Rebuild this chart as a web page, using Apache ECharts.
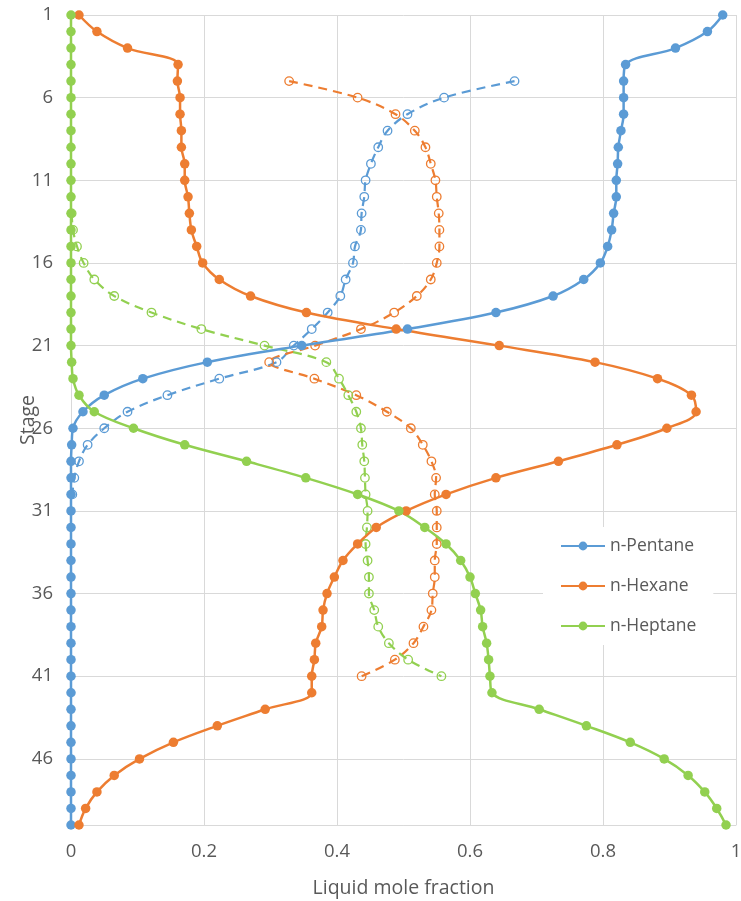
<!DOCTYPE html>
<html>
<head>
<meta charset="utf-8">
<script src="https://cdn.jsdelivr.net/npm/echarts@6/dist/echarts.min.js"></script>
<style>
  html, body { margin: 0; padding: 0; background: #ffffff; }
  #chart { width: 741px; height: 901px; }
</style>
</head>
<body>
<div id="chart"></div>
<script>
// Column stage numbers (1 = top, 50 = bottom)
const stages = [1, 2, 3, 4, 5, 6, 7, 8, 9, 10, 11, 12, 13, 14, 15, 16, 17, 18, 19, 20,
  21, 22, 23, 24, 25, 26, 27, 28, 29, 30, 31, 32, 33, 34, 35, 36, 37, 38, 39, 40,
  41, 42, 43, 44, 45, 46, 47, 48, 49, 50];

// Liquid mole fractions on every stage
const pentaneLiquid = [0.980, 0.957, 0.909, 0.834, 0.831, 0.831, 0.831, 0.827, 0.823, 0.822,
  0.820, 0.820, 0.816, 0.813, 0.807, 0.796, 0.771, 0.725, 0.639, 0.506,
  0.347, 0.205, 0.108, 0.050, 0.018, 0.003, 0.001, 0, 0, 0,
  0, 0, 0, 0, 0, 0, 0, 0, 0, 0,
  0, 0, 0, 0, 0, 0, 0, 0, 0, 0];
const hexaneLiquid = [0.012, 0.039, 0.085, 0.161, 0.160, 0.164, 0.164, 0.166, 0.166, 0.171,
  0.171, 0.176, 0.178, 0.181, 0.189, 0.198, 0.223, 0.270, 0.354, 0.489,
  0.644, 0.788, 0.882, 0.933, 0.940, 0.896, 0.821, 0.733, 0.639, 0.564,
  0.504, 0.459, 0.431, 0.409, 0.396, 0.385, 0.379, 0.377, 0.368, 0.366,
  0.362, 0.362, 0.292, 0.220, 0.154, 0.103, 0.065, 0.039, 0.022, 0.012];
const heptaneLiquid = [0, 0, 0, 0, 0, 0, 0, 0, 0, 0,
  0, 0, 0, 0, 0, 0, 0, 0, 0, 0,
  0, 0.001, 0.003, 0.012, 0.035, 0.094, 0.171, 0.264, 0.353, 0.431,
  0.493, 0.532, 0.564, 0.586, 0.600, 0.608, 0.616, 0.619, 0.625, 0.628,
  0.630, 0.633, 0.704, 0.775, 0.841, 0.892, 0.928, 0.953, 0.971, 0.985];

// Vapour mole fractions (dashed curves), each over its own stage range
const pentaneVapourStages = [5, 6, 7, 8, 9, 10, 11, 12, 13, 14, 15, 16, 17, 18, 19, 20,
  21, 22, 23, 24, 25, 26, 27, 28, 29, 30];
const pentaneVapour = [0.667, 0.561, 0.506, 0.476, 0.462, 0.451, 0.443, 0.441, 0.437, 0.436,
  0.427, 0.424, 0.413, 0.405, 0.386, 0.362, 0.335, 0.309, 0.223, 0.145,
  0.085, 0.050, 0.025, 0.012, 0.005, 0.002];
const hexaneVapourStages = [5, 6, 7, 8, 9, 10, 11, 12, 13, 14, 15, 16, 17, 18, 19, 20,
  21, 22, 23, 24, 25, 26, 27, 28, 29, 30, 31, 32, 33, 34, 35, 36, 37, 38, 39, 40, 41];
const hexaneVapour = [0.328, 0.431, 0.488, 0.517, 0.533, 0.541, 0.548, 0.550, 0.553, 0.554,
  0.554, 0.550, 0.541, 0.520, 0.486, 0.436, 0.367, 0.298, 0.366, 0.429,
  0.475, 0.511, 0.529, 0.542, 0.549, 0.547, 0.550, 0.550, 0.550, 0.547,
  0.547, 0.544, 0.542, 0.530, 0.515, 0.487, 0.437];
const heptaneVapourStages = [13, 14, 15, 16, 17, 18, 19, 20, 21, 22, 23, 24, 25, 26, 27,
  28, 29, 30, 31, 32, 33, 34, 35, 36, 37, 38, 39, 40, 41];
const heptaneVapour = [0.001, 0.003, 0.009, 0.019, 0.035, 0.065, 0.121, 0.196, 0.291, 0.384,
  0.403, 0.417, 0.429, 0.436, 0.438, 0.441, 0.442, 0.443, 0.446, 0.445,
  0.443, 0.446, 0.448, 0.448, 0.456, 0.462, 0.478, 0.507, 0.557];

const componentNames = ['n-Pentane', 'n-Hexane', 'n-Heptane'];
const colors = ['#5B9BD5', '#ED7D31', '#92D050'];
const textColor = '#595959';
const gridColor = '#D9D9D9';
const fontFamily = '"Open Sans", "Noto Sans", sans-serif';

const pairs = (xs, ys) => xs.map((x, i) => [x, ys[i]]);

function liquidSeries(name, values, color) {
  return {
    name: name,
    type: 'line',
    data: pairs(values, stages),
    smooth: 0.35,
    clip: false,
    symbol: 'circle',
    symbolSize: 9.5,
    lineStyle: { color: color, width: 2.5 },
    itemStyle: { color: color, borderColor: color, borderWidth: 0 },
    z: 3
  };
}

function vapourSeries(name, values, stageList, color) {
  return {
    name: name,
    type: 'line',
    data: pairs(values, stageList),
    smooth: 0.35,
    clip: false,
    symbol: 'circle',
    symbolSize: 8.5,
    lineStyle: { color: color, width: 2.2, type: [9, 6] },
    itemStyle: { color: 'rgba(255,255,255,0)', borderColor: color, borderWidth: 1.3 },
    z: 2
  };
}

const chart = echarts.init(document.getElementById('chart'), null, { renderer: 'canvas' });

chart.setOption({
  animation: false,
  backgroundColor: '#ffffff',
  textStyle: { fontFamily: fontFamily },
  grid: { left: 71, right: 5, top: 15, bottom: 76, containLabel: false, outerBoundsMode: 'none' },
  xAxis: {
    type: 'value',
    min: 0,
    max: 1,
    interval: 0.2,
    name: 'Liquid mole fraction',
    nameLocation: 'middle',
    nameGap: 53,
    nameMoveOverlap: false,
    nameTextStyle: { color: textColor, fontSize: 19.5, fontFamily: fontFamily },
    axisLine: { show: true, lineStyle: { color: gridColor, width: 1 } },
    axisTick: { show: false },
    axisLabel: {
      color: textColor, fontSize: 18.5, fontFamily: fontFamily, margin: 17,
      formatter: v => String(Math.round(v * 10) / 10)
    },
    splitLine: { show: true, lineStyle: { color: gridColor, width: 1 } }
  },
  yAxis: {
    type: 'value',
    inverse: true,
    min: 1,
    max: 50,
    interval: 5,
    name: 'Stage',
    nameLocation: 'middle',
    nameGap: 33,
    nameMoveOverlap: false,
    nameTextStyle: { color: textColor, fontSize: 19.5, fontFamily: fontFamily },
    axisLine: { show: true, lineStyle: { color: gridColor, width: 1 } },
    axisTick: { show: false },
    axisLabel: {
      color: textColor, fontSize: 18.5, fontFamily: fontFamily, margin: 18,
      showMaxLabel: false
    },
    splitLine: { show: true, lineStyle: { color: gridColor, width: 1 } }
  },
  legend: {
    data: componentNames,
    orient: 'vertical',
    left: 543,
    top: 527,
    padding: [9, 17, 9, 17],
    itemGap: 20,
    itemWidth: 44,
    itemHeight: 11,
    backgroundColor: '#ffffff',
    textStyle: { color: textColor, fontSize: 17.5, fontFamily: fontFamily, lineHeight: 20 }
  },
  series: [
    vapourSeries('n-Pentane vapour', pentaneVapour, pentaneVapourStages, colors[0]),
    vapourSeries('n-Hexane vapour', hexaneVapour, hexaneVapourStages, colors[1]),
    vapourSeries('n-Heptane vapour', heptaneVapour, heptaneVapourStages, colors[2]),
    liquidSeries(componentNames[0], pentaneLiquid, colors[0]),
    liquidSeries(componentNames[1], hexaneLiquid, colors[1]),
    liquidSeries(componentNames[2], heptaneLiquid, colors[2])
  ]
});
</script>
</body>
</html>
